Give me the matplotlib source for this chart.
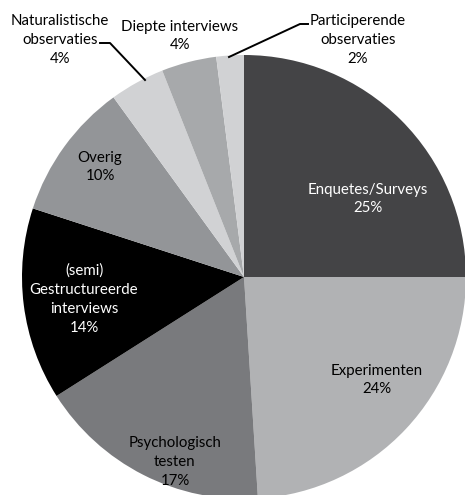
import matplotlib
matplotlib.use("Agg")
import matplotlib.pyplot as plt

# data
labels = ["Enquetes/Surveys", "Experimenten", "Psychologisch\ntesten",
          "(semi)\nGestructureerde\ninterviews", "Overig",
          "Naturalistische\nobservaties", "Diepte interviews",
          "Participerende\nobservaties"]
values = [25, 24, 17, 14, 10, 4, 4, 2]

colors = ["#444446", "#b1b2b4", "#797a7d", "#000000", "#939598",
          "#d1d2d4", "#a7a9ab", "#d1d2d4"]
text_colors = ["white", "black", "black", "white", "black",
               "black", "black", "black"]

W, H = 465, 495
CX, CY, R = 244, H - 277, 222

plt.rcParams["font.family"] = ["Lato", "DejaVu Sans"]

fig = plt.figure(figsize=(W / 100, H / 100), dpi=100)
ax = fig.add_axes([0, 0, 1, 1])
ax.pie(values, colors=colors, startangle=90, counterclock=False,
       center=(CX, CY), radius=R, frame=True,
       wedgeprops=dict(linewidth=0))
ax.set_xlim(0, W)
ax.set_ylim(0, H)
ax.axis("off")

# label positions in pixel coords (x, y from top)
inside = {0: (368, 199), 1: (377, 380), 2: (175, 462), 3: (84, 299),
          4: (100, 167)}
outside = {5: (60, 40), 6: (180, 36), 7: (358, 40)}

for i, (x, y) in {**inside, **outside}.items():
    ax.text(x, H - y, f"{labels[i]}\n{values[i]}%", ha="center", va="center",
            fontsize=10.8, color=text_colors[i], linespacing=1.45)

# leader lines
ax.plot([100, 110, 145], [H - 43, H - 43, H - 80], color="black", lw=1.4)
ax.plot([308, 300, 229], [H - 24, H - 24, H - 57], color="black", lw=1.4)

fig.savefig("out.png", dpi=100)
